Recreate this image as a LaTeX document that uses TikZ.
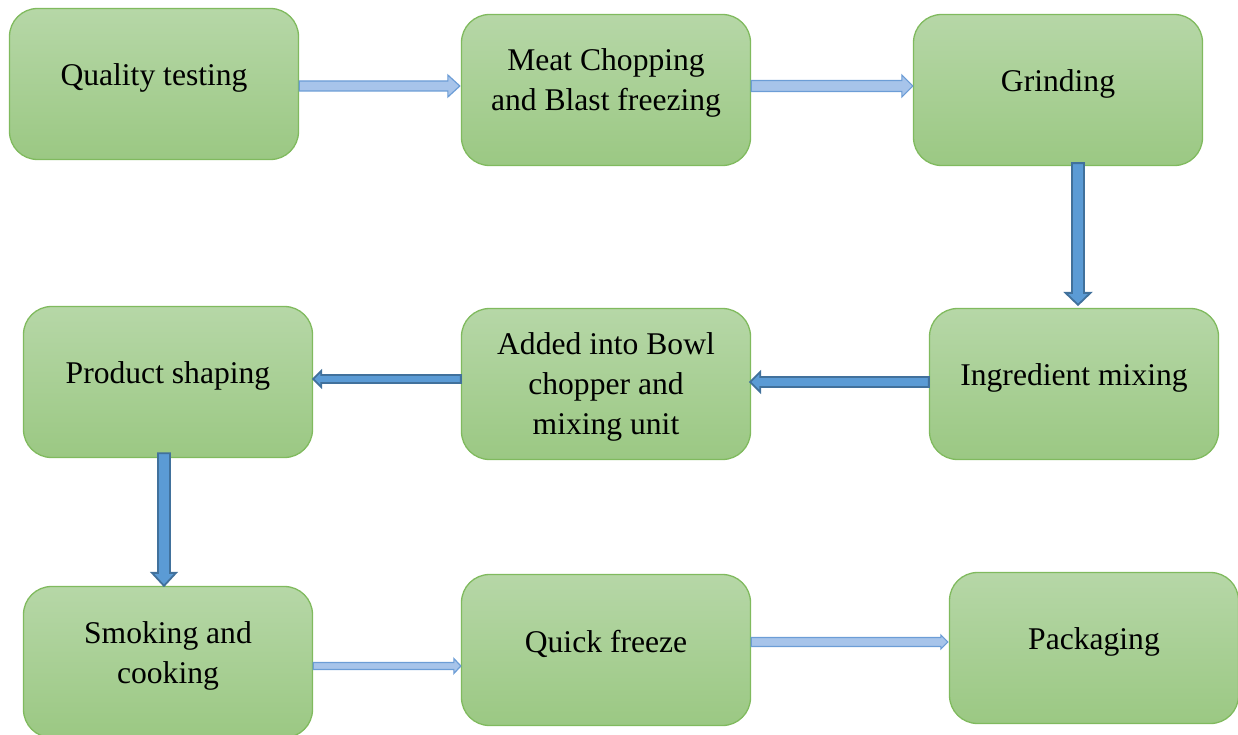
\documentclass[tikz,border=0pt]{standalone}
\usepackage{fontspec}
\setmainfont{Liberation Serif}
\usetikzlibrary{calc}
\definecolor{boxtop}{RGB}{182,215,167}
\definecolor{boxbot}{RGB}{155,200,131}
\definecolor{boxline}{RGB}{128,186,94}
\definecolor{lafill}{RGB}{167,196,234}
\definecolor{laline}{RGB}{108,157,214}
\definecolor{dafill}{RGB}{91,155,213}
\definecolor{daline}{RGB}{65,113,156}
\tikzset{
  box/.style={draw=boxline, line width=1.3pt, rounded corners=28pt,
    minimum width=289pt, minimum height=151pt, top color=boxtop,
    bottom color=boxbot, inner sep=0pt},
  txt/.style={font=\fontsize{31.6pt}{40pt}\selectfont, align=center,
    inner sep=0pt, text=black},
  lightarrow/.style={draw=laline, fill=lafill, line width=1.2pt, line join=miter},
  darkarrow/.style={draw=daline, fill=dafill, line width=1.8pt, line join=miter}
}
% #1 style, #2 from, #3 to, #4 half shaft, #5 half head, #6 head length
\newcommand{\blockarrow}[6]{%
  \coordinate (ba-s) at (#2);
  \coordinate (ba-e) at (#3);
  \coordinate (ba-b) at ($(ba-e)!#6pt!(ba-s)$);
  \draw[#1] ($(ba-s)!#4pt!90:(ba-e)$) -- ($(ba-b)!#4pt!-90:(ba-s)$)
    -- ($(ba-b)!#5pt!-90:(ba-s)$) -- (ba-e) -- ($(ba-b)!#5pt!90:(ba-s)$)
    -- ($(ba-b)!#4pt!90:(ba-s)$) -- ($(ba-s)!#4pt!-90:(ba-e)$) -- cycle;
}
\begin{document}
\begin{tikzpicture}[x=1pt,y=-1pt]
\useasboundingbox (0,0) rectangle (1238,735);
% boxes
\node[box] (q) at (154,84) {};
\node[box] (m) at (606,90) {};
\node[box] (g) at (1058,90) {};
\node[box] (i) at (1074,384) {};
\node[box] (b) at (606,384) {};
\node[box] (p) at (168,382) {};
\node[box] (s) at (168,662) {};
\node[box] (f) at (606,650) {};
\node[box] (k) at (1094,648) {};
% texts
\node[txt] (qt) at ($(q)+(0,-6.5)$) {Quality testing};
\node[txt] (mt) at ($(m)+(0,-7)$) {Meat Chopping\\and Blast freezing};
\node[txt] (gt) at ($(g)+(0,-6.5)$) {Grinding};
\node[txt] (it) at ($(i)+(0,-6)$) {Ingredient mixing};
\node[txt] (bt) at ($(b)+(0,3)$) {Added into Bowl\\chopper and\\mixing unit};
\node[txt] (pt) at ($(p)+(0,-6.5)$) {Product shaping};
\node[txt] (st) at ($(s)+(0,-6.5)$) {Smoking and\\cooking};
\node[txt] (ft) at ($(f)+(0,-6.5)$) {Quick freeze};
\node[txt] (kt) at ($(k)+(0,-6.5)$) {Packaging};
% connectors
\blockarrow{lightarrow}{$(q.east)+(0,2)$}{$(m.west)+(-1,-4)$}{5}{11}{12}
\blockarrow{lightarrow}{$(m.east)+(0,-4)$}{$(g.west)+(0,-4)$}{5.5}{11}{11}
\blockarrow{darkarrow}{$(g.south)+(20,-3)$}{$(i.north)+(4,-3)$}{6}{12.5}{12}
\blockarrow{darkarrow}{$(i.west)+(0,-2)$}{$(b.east)+(-1,-2)$}{5}{10}{10}
\blockarrow{darkarrow}{$(b.west)+(0,-5)$}{$(p.east)+(0,-3)$}{4}{8}{8}
\blockarrow{darkarrow}{$(p.south)+(-4,-5)$}{$(s.north)+(-4,0)$}{6}{12}{13}
\blockarrow{lightarrow}{$(s.east)+(0,4)$}{$(f.west)+(0,16)$}{3.5}{7.5}{7}
\blockarrow{lightarrow}{$(f.east)+(0,-8)$}{$(k.west)+(-1,-6)$}{4.5}{7}{7}
\end{tikzpicture}
\end{document}
